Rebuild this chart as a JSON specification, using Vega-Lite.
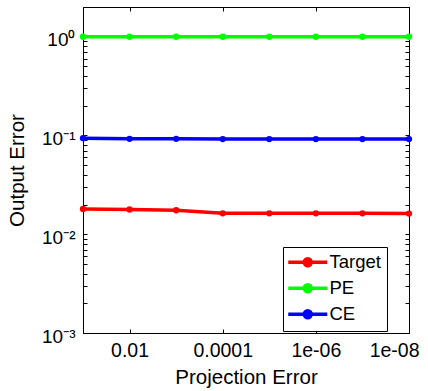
{
  "$schema": "https://vega.github.io/schema/vega-lite/v6.json",
  "autosize": "none",
  "width": 326,
  "height": 326,
  "padding": {"left": 83, "top": 7, "right": 19, "bottom": 58},
  "background": "white",
  "config": {
    "font": "Liberation Sans",
    "view": {"stroke": "black", "strokeWidth": 1},
    "axis": {"grid": false, "domainColor": "black", "tickColor": "black", "labelColor": "black", "titleColor": "black", "labelFont": "Liberation Sans", "titleFont": "Liberation Sans", "titleFontWeight": "normal"}
  },
  "data": {"values": [
    {"proj": 0.1, "series": "Target", "err": 0.018},
    {"proj": 0.01, "series": "Target", "err": 0.0178},
    {"proj": 0.001, "series": "Target", "err": 0.0175},
    {"proj": 0.0001, "series": "Target", "err": 0.0163},
    {"proj": 0.00001, "series": "Target", "err": 0.0163},
    {"proj": 0.000001, "series": "Target", "err": 0.0163},
    {"proj": 0.0000001, "series": "Target", "err": 0.0163},
    {"proj": 0.00000001, "series": "Target", "err": 0.0162},
    {"proj": 0.1, "series": "PE", "err": 1.0},
    {"proj": 0.01, "series": "PE", "err": 1.0},
    {"proj": 0.001, "series": "PE", "err": 1.0},
    {"proj": 0.0001, "series": "PE", "err": 1.0},
    {"proj": 0.00001, "series": "PE", "err": 1.0},
    {"proj": 0.000001, "series": "PE", "err": 1.0},
    {"proj": 0.0000001, "series": "PE", "err": 1.0},
    {"proj": 0.00000001, "series": "PE", "err": 1.0},
    {"proj": 0.1, "series": "CE", "err": 0.094},
    {"proj": 0.01, "series": "CE", "err": 0.0925},
    {"proj": 0.001, "series": "CE", "err": 0.0925},
    {"proj": 0.0001, "series": "CE", "err": 0.092},
    {"proj": 0.00001, "series": "CE", "err": 0.092},
    {"proj": 0.000001, "series": "CE", "err": 0.092},
    {"proj": 0.0000001, "series": "CE", "err": 0.092},
    {"proj": 0.00000001, "series": "CE", "err": 0.092}
  ]},
  "resolve": {"axis": {"x": "independent", "y": "independent"}},
  "layer": [
    {
      "mark": {"type": "line", "strokeWidth": 3.5, "point": {"filled": true, "size": 40}},
      "encoding": {
        "x": {"field": "proj", "type": "quantitative",
              "scale": {"type": "log", "domain": [0.00000001, 0.1], "reverse": true, "nice": false},
              "axis": {"orient": "bottom", "title": "Projection Error", "values": [0.01, 0.0001, 0.000001, 0.00000001],
                       "labelExpr": "datum.value == 0.01 ? '0.01' : datum.value == 0.0001 ? '0.0001' : datum.value == 0.000001 ? '1e-06' : '1e-08'",
                       "tickSize": -4, "labelPadding": 12, "labelFontSize": 19.5, "titleFontSize": 20.5, "titlePadding": 8,
                       "labelFlush": true, "labelFlushOffset": 10, "labelOverlap": false}},
        "y": {"field": "err", "type": "quantitative",
              "scale": {"type": "log", "domain": [0.001, 2], "nice": false},
              "axis": {"orient": "left", "title": "Output Error",
                       "values": [0.001,0.002,0.003,0.004,0.005,0.006,0.007,0.008,0.009,0.01,0.02,0.03,0.04,0.05,0.06,0.07,0.08,0.09,0.1,0.2,0.3,0.4,0.5,0.6,0.7,0.8,0.9,1,2],
                       "labelExpr": "datum.value == 1 ? '10⁰' : datum.value == 0.1 ? '10⁻¹' : datum.value == 0.01 ? '10⁻²' : datum.value == 0.001 ? '10⁻³' : ''",
                       "tickSize": -4, "labelPadding": 12, "labelFontSize": 19, "labelOffset": 3, "titleFontSize": 20.5, "titlePadding": 14, "labelFlush": false, "labelOverlap": false}},
        "color": {"field": "series", "type": "nominal",
                  "scale": {"domain": ["Target", "PE", "CE"], "range": ["#ff0000", "#00ff00", "#0000ff"]},
                  "legend": {"orient": "none", "legendX": 200, "legendY": 240, "title": null,
                             "strokeColor": "black", "fillColor": "white", "padding": 6,
                             "symbolType": "M-2,0H5.8M1.2,0A0.7,0.7,0,1,0,2.6,0A0.7,0.7,0,1,0,1.2,0Z",
                             "symbolSize": 100, "symbolStrokeWidth": 3.5, "labelFontSize": 18.5, "labelOffset": 22, "rowPadding": 4,
                             "labelColor": "black", "labelExpr": "datum.label + '\u00a0\u2009'",
                             "encode": {"symbols": {"update": {"fill": {"scale": "color", "field": "value"}, "fillOpacity": {"value": 1}}}}}}
      }
    },
    {
      "mark": {"type": "point", "opacity": 0},
      "encoding": {
        "x": {"field": "proj", "type": "quantitative",
              "scale": {"type": "log", "domain": [0.00000001, 0.1], "reverse": true, "nice": false},
              "axis": {"orient": "top", "title": null, "labels": false, "values": [0.01, 0.0001, 0.000001, 0.00000001], "tickSize": -4}},
        "y": {"field": "err", "type": "quantitative",
              "scale": {"type": "log", "domain": [0.001, 2], "nice": false},
              "axis": {"orient": "right", "title": null, "labels": false,
                       "values": [0.001,0.002,0.003,0.004,0.005,0.006,0.007,0.008,0.009,0.01,0.02,0.03,0.04,0.05,0.06,0.07,0.08,0.09,0.1,0.2,0.3,0.4,0.5,0.6,0.7,0.8,0.9,1,2],
                       "tickSize": -4}}
      }
    }
  ]
}
